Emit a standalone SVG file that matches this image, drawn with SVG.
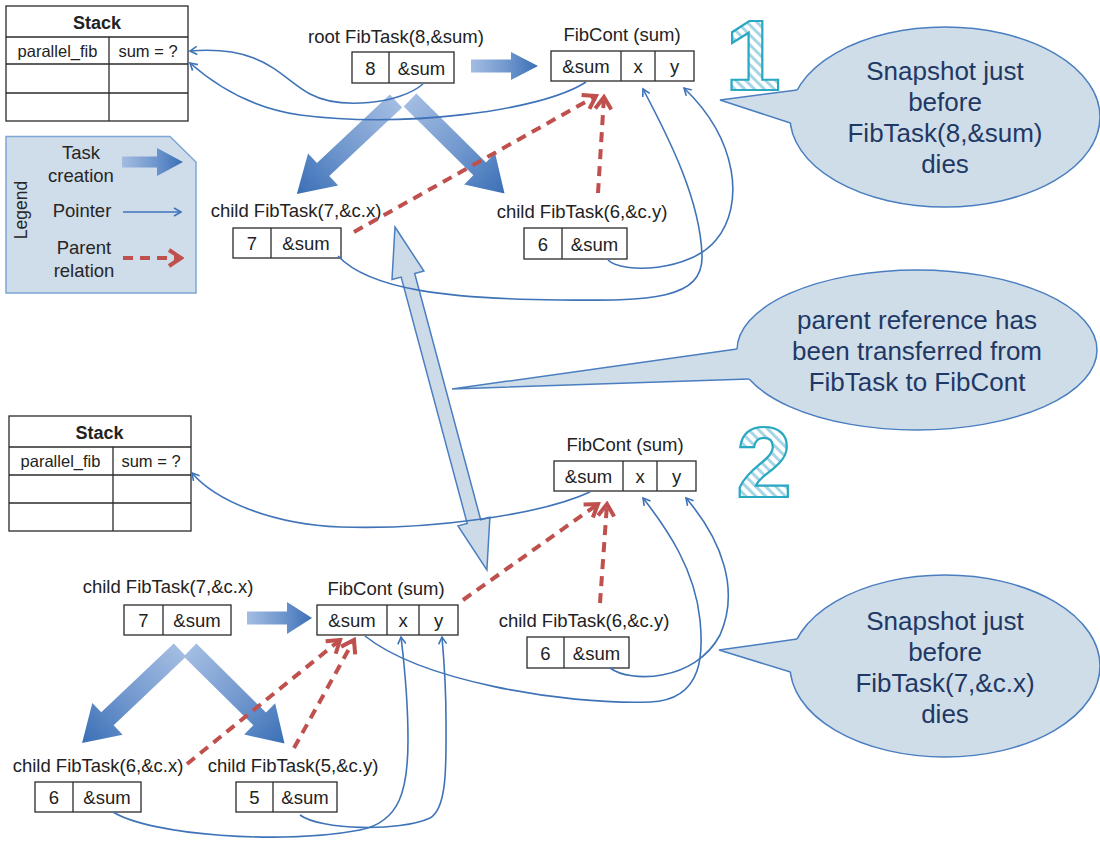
<svg xmlns="http://www.w3.org/2000/svg" width="1100" height="844" viewBox="0 0 1100 844">
  <defs>
    <style>
      text { font-family: "Liberation Sans", Arial, sans-serif; fill: #222; }
      .lbl { font-size: 18.5px; text-anchor: middle; }
      .cell { font-size: 18.5px; text-anchor: middle; }
      .stk { font-size: 16.5px; text-anchor: middle; }
      .stkh { font-size: 18px; font-weight: bold; text-anchor: middle; }
      .box { fill: #fff; stroke: #2a2a2a; stroke-width: 1.3; }
      .div { stroke: #2a2a2a; stroke-width: 1.3; }
      .leg { font-size: 18.5px; text-anchor: middle; fill: #262626; }
      .bubble { fill: #cfdde9; stroke: #4a7ec0; stroke-width: 1.5; }
      .bubfill { fill: #cfdde9; stroke: none; }
      .bubedge { fill: none; stroke: #4a7ec0; stroke-width: 1.5; stroke-linejoin: miter; }
      .btxt { font-size: 26px; text-anchor: middle; fill: #1f3864; }
      .ptr { fill: none; stroke: #3f73b8; stroke-width: 1.6; marker-end: url(#ptrHead); }
      .par { fill: none; stroke: #c0504d; stroke-width: 4; stroke-dasharray: 10 7; marker-end: url(#parHead); }
      .task { fill: url(#taskGrad); stroke: none; }
      .big { font-size: 100px; font-weight: bold; text-anchor: middle; fill: url(#hatch); stroke: #29a8c2; stroke-width: 2.2; }
    </style>
    <linearGradient id="taskGrad" x1="0" y1="0" x2="1" y2="0">
      <stop offset="0" stop-color="#a3bde2"/>
      <stop offset="0.55" stop-color="#6f96cd"/>
      <stop offset="1" stop-color="#3a6fb6"/>
    </linearGradient>
    <pattern id="hatch" patternUnits="userSpaceOnUse" width="7" height="7" patternTransform="rotate(-45)">
      <rect width="7" height="7" fill="#ffffff"/>
      <rect width="3" height="7" fill="#a6d6e5"/>
    </pattern>
    <marker id="ptrHead" viewBox="-9 -6 11 12" refX="0" refY="0" markerWidth="11" markerHeight="12" markerUnits="userSpaceOnUse" orient="auto">
      <path d="M-7,-4 L0,0 L-7,4" fill="none" stroke="#3f73b8" stroke-width="1.6"/>
    </marker>
    <marker id="parHead" viewBox="-15 -11 18 22" refX="0" refY="0" markerWidth="18" markerHeight="22" markerUnits="userSpaceOnUse" orient="auto">
      <path d="M-12,-8 L0,0 L-12,8" fill="none" stroke="#c0504d" stroke-width="4" stroke-dasharray="none"/>
    </marker>
  </defs>

  <rect width="1100" height="844" fill="#ffffff"/>

  <!-- stack frame, snapshot 1 -->
  <g id="stack1">
    <rect class="box" x="6" y="6" width="182" height="115"/>
    <line class="div" x1="6" y1="37" x2="188" y2="37"/>
    <line class="div" x1="6" y1="64" x2="188" y2="64"/>
    <line class="div" x1="6" y1="93" x2="188" y2="93"/>
    <line class="div" x1="109" y1="37" x2="109" y2="121"/>
    <text class="stkh" x="97" y="29">Stack</text>
    <text class="stk" x="57.5" y="57">parallel_fib</text>
    <text class="stk" x="148" y="57">sum = ?</text>
  </g>

  <!-- legend -->
  <g id="legend">
    <path d="M6,136.5 H170 L196,162 V293 H6 Z" fill="#cfdce9" stroke="#7fa7d6" stroke-width="1.5"/>
    <text transform="translate(26.5,210) rotate(-90)" style="font-size:17.5px;text-anchor:middle;fill:#262626">Legend</text>
    <text class="leg" x="81" y="159">Task</text>
    <text class="leg" x="81" y="182">creation</text>
    <text class="leg" x="82" y="217">Pointer</text>
    <text class="leg" x="84" y="254">Parent</text>
    <text class="leg" x="84" y="277">relation</text>
    <path class="task" transform="translate(122,162)" d="M0,-5.5 H35 V-14 L61,0 L35,14 V5.5 H0 Z"/>
    <line class="ptr" x1="123" y1="212" x2="181" y2="212"/>
    <line class="par" x1="123" y1="258" x2="181" y2="258"/>
  </g>

  <!-- speech bubbles -->
  <g id="bubble1">
    <ellipse class="bubble" cx="945" cy="117" rx="155" ry="90"/>
    <polygon class="bubfill" points="720,100 797,90 808,93 808,121 790.5,123"/>
    <polyline class="bubedge" points="797,90 720,100 790.5,123"/>
    <text class="btxt" x="945" y="80">Snapshot just</text>
    <text class="btxt" x="945" y="111">before</text>
    <text class="btxt" x="945" y="142">FibTask(8,&amp;sum)</text>
    <text class="btxt" x="945" y="173">dies</text>
  </g>
  <g id="bubble2">
    <ellipse class="bubble" cx="917" cy="350" rx="180" ry="80"/>
    <polygon class="bubfill" points="452,389 737,349 752,350 752,378 749,379"/>
    <polyline class="bubedge" points="737,349 452,389 749,379"/>
    <text class="btxt" x="917" y="329">parent reference has</text>
    <text class="btxt" x="917" y="360">been transferred from</text>
    <text class="btxt" x="917" y="391">FibTask to FibCont</text>
  </g>
  <g id="bubble3">
    <ellipse class="bubble" cx="945" cy="666" rx="155" ry="91"/>
    <polygon class="bubfill" points="719,650 797,639 808,641 808,670 790.5,672"/>
    <polyline class="bubedge" points="797,639 719,650 790.5,672"/>
    <text class="btxt" x="945" y="630">Snapshot just</text>
    <text class="btxt" x="945" y="661">before</text>
    <text class="btxt" x="945" y="692">FibTask(7,&amp;c.x)</text>
    <text class="btxt" x="945" y="723">dies</text>
  </g>

  <!-- snapshot numbers -->
  <g id="num1"><text class="big" x="753" y="90">1</text></g>
  <g id="num2"><text class="big" x="764" y="497">2</text></g>

  <!-- transfer of the parent reference between the two snapshots -->
  <g id="transfer">
    <path transform="translate(395,227) rotate(75)" d="M0,0 L50,-16.5 L50,-7 L305,-7 L305,-16.5 L355,0 L305,16.5 L305,7 L50,7 L50,16.5 Z" fill="#cddbe8" stroke="#4a7fc1" stroke-width="1.5" stroke-linejoin="miter"/>
  </g>

  <!-- task creation arrows -->
  <g id="spawn">
    <path class="task" transform="translate(471,66)" d="M0,-6.5 H40 V-14 L67,0 L40,14 V6.5 H0 Z"/>
    <path class="task" transform="translate(396,101) rotate(136.8)" d="M0,-9 H100 V-22 L136,0 L100,22 V9 H0 Z"/>
    <path class="task" transform="translate(410,100) rotate(44.7)" d="M0,-9 H98 V-22 L133,0 L98,22 V9 H0 Z"/>
    <path class="task" transform="translate(247,618)" d="M0,-6.5 H40 V-16 L65,0 L40,16 V6.5 H0 Z"/>
    <path class="task" transform="translate(180,650) rotate(136.5)" d="M0,-9 H100 V-22 L135,0 L100,22 V9 H0 Z"/>
    <path class="task" transform="translate(190,650) rotate(44.7)" d="M0,-9 H98 V-22 L133,0 L98,22 V9 H0 Z"/>
  </g>

  <!-- task and continuation records, snapshot 1 -->
  <g id="rootTask">
    <text class="lbl" x="396" y="43">root FibTask(8,&amp;sum)</text>
    <rect class="box" x="352" y="52" width="102" height="31"/>
    <line class="div" x1="389" y1="52" x2="389" y2="83"/>
    <text class="cell" x="370.5" y="75">8</text>
    <text class="cell" x="421.5" y="75">&amp;sum</text>
  </g>
  <g id="fibCont1">
    <text class="lbl" x="622" y="41">FibCont (sum)</text>
    <rect class="box" x="551" y="51" width="143" height="30"/>
    <line class="div" x1="621" y1="51" x2="621" y2="81"/>
    <line class="div" x1="655" y1="51" x2="655" y2="81"/>
    <text class="cell" x="586" y="73">&amp;sum</text>
    <text class="cell" x="638" y="73">x</text>
    <text class="cell" x="674.5" y="73">y</text>
  </g>
  <g id="child7a">
    <text class="lbl" x="296" y="217">child FibTask(7,&amp;c.x)</text>
    <rect class="box" x="233" y="228" width="108" height="30"/>
    <line class="div" x1="271" y1="228" x2="271" y2="258"/>
    <text class="cell" x="252" y="250">7</text>
    <text class="cell" x="306" y="250">&amp;sum</text>
  </g>
  <g id="child6a">
    <text class="lbl" x="582" y="218">child FibTask(6,&amp;c.y)</text>
    <rect class="box" x="524" y="228" width="103" height="31"/>
    <line class="div" x1="562" y1="228" x2="562" y2="259"/>
    <text class="cell" x="543" y="251">6</text>
    <text class="cell" x="594.5" y="251">&amp;sum</text>
  </g>

  <!-- stack frame, snapshot 2 -->
  <g id="stack2">
    <rect class="box" x="9" y="416" width="182" height="115"/>
    <line class="div" x1="9" y1="447" x2="191" y2="447"/>
    <line class="div" x1="9" y1="475" x2="191" y2="475"/>
    <line class="div" x1="9" y1="503" x2="191" y2="503"/>
    <line class="div" x1="113" y1="447" x2="113" y2="531"/>
    <text class="stkh" x="99.5" y="439">Stack</text>
    <text class="stk" x="60.5" y="467">parallel_fib</text>
    <text class="stk" x="151" y="467">sum = ?</text>
  </g>

  <!-- task and continuation records, snapshot 2 -->
  <g id="fibCont2">
    <text class="lbl" x="625" y="451">FibCont (sum)</text>
    <rect class="box" x="554" y="461" width="142" height="30"/>
    <line class="div" x1="623" y1="461" x2="623" y2="491"/>
    <line class="div" x1="657" y1="461" x2="657" y2="491"/>
    <text class="cell" x="588.5" y="483">&amp;sum</text>
    <text class="cell" x="640" y="483">x</text>
    <text class="cell" x="676.5" y="483">y</text>
  </g>
  <g id="child6b">
    <text class="lbl" x="584" y="627">child FibTask(6,&amp;c.y)</text>
    <rect class="box" x="527" y="637" width="102" height="31"/>
    <line class="div" x1="564" y1="637" x2="564" y2="668"/>
    <text class="cell" x="545.5" y="660">6</text>
    <text class="cell" x="596.5" y="660">&amp;sum</text>
  </g>
  <g id="child7b">
    <text class="lbl" x="168" y="593">child FibTask(7,&amp;c.x)</text>
    <rect class="box" x="124" y="605" width="107" height="30"/>
    <line class="div" x1="163" y1="605" x2="163" y2="635"/>
    <text class="cell" x="143.5" y="627">7</text>
    <text class="cell" x="197" y="627">&amp;sum</text>
  </g>
  <g id="fibCont3">
    <text class="lbl" x="386" y="595">FibCont (sum)</text>
    <rect class="box" x="317" y="605" width="141" height="30"/>
    <line class="div" x1="387" y1="605" x2="387" y2="635"/>
    <line class="div" x1="419" y1="605" x2="419" y2="635"/>
    <text class="cell" x="352" y="627">&amp;sum</text>
    <text class="cell" x="403" y="627">x</text>
    <text class="cell" x="438.5" y="627">y</text>
  </g>
  <g id="child6c">
    <text class="lbl" x="98" y="772">child FibTask(6,&amp;c.x)</text>
    <rect class="box" x="35" y="782" width="106" height="30"/>
    <line class="div" x1="73" y1="782" x2="73" y2="812"/>
    <text class="cell" x="54" y="804">6</text>
    <text class="cell" x="107" y="804">&amp;sum</text>
  </g>
  <g id="child5">
    <text class="lbl" x="293" y="772">child FibTask(5,&amp;c.y)</text>
    <rect class="box" x="236" y="782" width="101" height="30"/>
    <line class="div" x1="273" y1="782" x2="273" y2="812"/>
    <text class="cell" x="254.5" y="804">5</text>
    <text class="cell" x="305" y="804">&amp;sum</text>
  </g>

  <!-- pointers and parent relations -->
  <g id="connectors">
    <path class="ptr" d="M423,84 C400,104 340,110 310,94 C280,78 265,45 190,51"/>
    <path class="ptr" d="M586,82 C540,112 400,128 300,115 C250,108 215,85 190,63"/>
    <path class="ptr" d="M338,256 C370,290 450,299 560,300 C650,301 704,300 702,255 C700,200 670,140 643,89"/>
    <path class="ptr" d="M608,260 C622,274 690,272 716,240 C745,205 738,140 684,88"/>
    <path class="ptr" d="M590,492 C540,515 430,530 340,527 C270,524 215,500 192,473"/>
    <path class="ptr" d="M365,636 C420,680 560,705 650,702 C705,700 703,650 700,620 C695,570 668,530 643,498"/>
    <path class="ptr" d="M610,668 C630,683 695,682 720,635 C740,590 722,540 686,498"/>
    <path class="ptr" d="M113,812 C150,835 280,845 360,830 C400,822 408,790 408,740 C408,700 405,670 401,637"/>
    <path class="ptr" d="M300,815 C320,830 400,832 430,818 C448,808 446,760 446,720 C446,690 444,660 442,637"/>

    <line class="par" x1="354" y1="232" x2="596" y2="96"/>
    <line class="par" x1="598" y1="193" x2="604" y2="97"/>
    <line class="par" x1="463" y1="600" x2="598" y2="504"/>
    <line class="par" x1="600" y1="603" x2="607" y2="504"/>
    <line class="par" x1="187" y1="764" x2="340" y2="640"/>
    <line class="par" x1="294" y1="748" x2="354" y2="640"/>
  </g>
</svg>
